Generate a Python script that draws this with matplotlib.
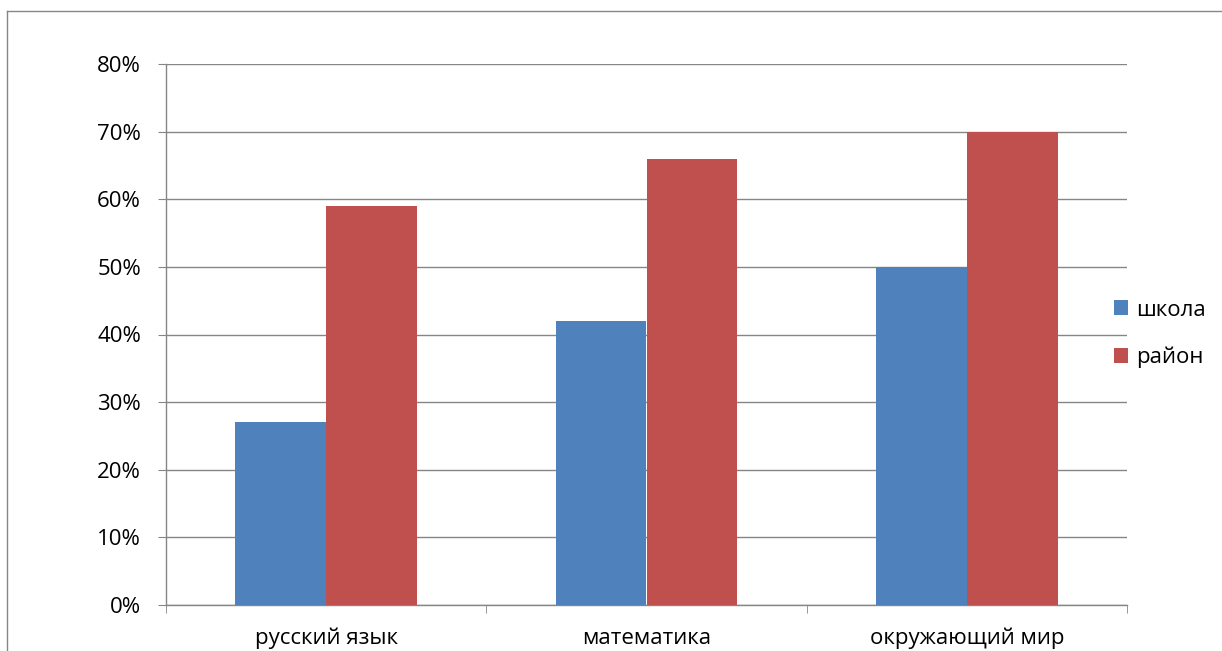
import numpy as np
import matplotlib.pyplot as plt
from matplotlib.patches import Patch
from matplotlib.ticker import PercentFormatter

plt.rcParams['font.family'] = ['Open Sans', 'DejaVu Sans']

# Data
subjects = ['русский язык', 'математика', 'окружающий мир']
school = [27, 42, 50]
district = [59, 66, 70]
series_names = ['школа', 'район']
colors = ['#4F81BD', '#C0504D']
grid_color = '#868686'

fig = plt.figure(figsize=(12.22, 6.51), dpi=100)
ax = fig.add_axes([166 / 1222, 1 - 605 / 651, (1127 - 166) / 1222, (605 - 64) / 651])

x = np.arange(len(subjects))
w = 0.284
ax.bar(x - w / 2, school, width=w, color=colors[0], zorder=3)
ax.bar(x + w / 2, district, width=w, color=colors[1], zorder=3)

ax.set_xlim(-0.5, len(subjects) - 0.5)
ax.set_ylim(0, 80)
ax.set_yticks(range(0, 81, 10))
ax.yaxis.set_major_formatter(PercentFormatter(decimals=0))
ax.grid(axis='y', color=grid_color, linewidth=1, zorder=0)

ax.set_xticks(x)
ax.set_xticklabels(subjects)
ax.set_xticks(np.arange(-0.5, len(subjects)), minor=True)
ax.tick_params(axis='x', which='major', length=0, pad=16.5, labelsize=16)
ax.tick_params(axis='x', which='minor', length=6, color=grid_color, direction='out')
ax.tick_params(axis='y', length=6, color=grid_color, pad=12, labelsize=16)

for side in ['top', 'right']:
    ax.spines[side].set_visible(False)
for side in ['left', 'bottom']:
    ax.spines[side].set_color(grid_color)
    ax.spines[side].set_linewidth(1)

handles = [Patch(facecolor=c) for c in colors]
fig.legend(handles, series_names, loc='center left',
           bbox_to_anchor=(1094 / 1222, 1 - 334 / 651), frameon=False,
           fontsize=16, handlelength=0.65, handleheight=0.65,
           handletextpad=0.35, labelspacing=1.18)

# outer chart border (left and top edges visible)
fig.add_artist(plt.Line2D([7 / 1222, 7 / 1222], [0, 1 - 11 / 651],
                          transform=fig.transFigure, color=grid_color, linewidth=1))
fig.add_artist(plt.Line2D([7 / 1222, 1], [1 - 11 / 651, 1 - 11 / 651],
                          transform=fig.transFigure, color=grid_color, linewidth=1))

plt.savefig('out.png', dpi=100)
